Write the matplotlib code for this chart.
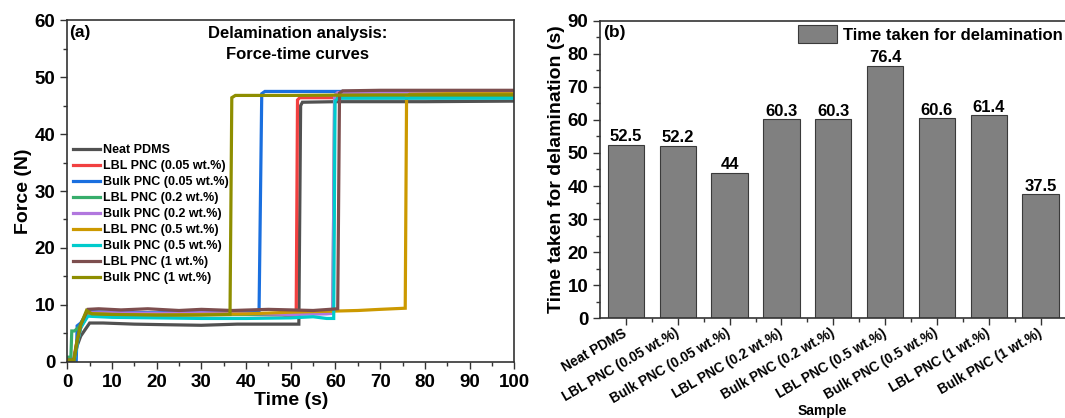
import matplotlib
matplotlib.use("Agg")
import matplotlib.pyplot as plt
from matplotlib.ticker import MultipleLocator

plt.rcParams["font.family"] = ["Liberation Sans", "DejaVu Sans"]
plt.rcParams["font.weight"] = "bold"
plt.rcParams["axes.labelweight"] = "bold"

# --- force-time curves (panel a) ---
labels = [
    "Neat PDMS",
    "LBL PNC (0.05 wt.%)",
    "Bulk PNC (0.05 wt.%)",
    "LBL PNC (0.2 wt.%)",
    "Bulk PNC (0.2 wt.%)",
    "LBL PNC (0.5 wt.%)",
    "Bulk PNC (0.5 wt.%)",
    "LBL PNC (1 wt.%)",
    "Bulk PNC (1 wt.%)",
]
colors = ["#515151", "#F14040", "#1A6FDF", "#37AD6B", "#B177DE",
          "#CC9900", "#00CBCC", "#7D4E4E", "#8E8E00"]

neat_t = [0, 1.5, 2.2, 3.0, 5.0, 8, 15, 22, 30, 38, 45, 51.8, 52.2, 52.6, 60, 80, 100]
neat_f = [0.3, 0.3, 2.8, 4.5, 6.8, 6.8, 6.6, 6.5, 6.4, 6.6, 6.6, 6.6, 45.0, 45.6, 45.7, 45.7, 45.8]

lbl005_t = [0, 1.4, 2.0, 3.0, 4.6, 10, 20, 30, 40, 48, 51.2, 51.5, 52.0, 60, 100]
lbl005_f = [0.3, 0.3, 3.0, 6.0, 8.4, 8.3, 8.2, 8.3, 8.3, 8.2, 7.9, 46.0, 46.4, 46.4, 46.4]

blk005_t = [0, 2.0, 2.2, 3.0, 4.6, 10, 20, 30, 40, 42.9, 43.5, 44.2, 50, 70, 100]
blk005_f = [0.2, 0.2, 6.3, 6.8, 8.8, 8.7, 8.6, 8.8, 8.7, 9.0, 47.1, 47.5, 47.5, 47.5, 47.5]

lbl02_t = [0, 0.8, 1.0, 1.6, 2.5, 4.5, 10, 20, 30, 40, 50, 59.4, 59.8, 60.5, 70, 100]
lbl02_f = [0.8, 0.8, 5.4, 5.4, 6.0, 8.4, 8.3, 8.2, 8.3, 8.3, 8.4, 8.6, 46.3, 46.6, 46.6, 46.7]

blk02_t = [0, 1.5, 2.2, 3.0, 4.6, 10, 20, 30, 40, 50, 58, 59.4, 59.8, 60.5, 75, 100]
blk02_f = [0.3, 0.3, 3.5, 6.0, 8.6, 8.6, 8.5, 8.6, 8.5, 8.3, 8.4, 8.5, 46.8, 47.3, 47.4, 47.4]

lbl05_t = [0, 1.5, 2.2, 3.0, 4.6, 10, 20, 30, 40, 50, 60, 65, 70, 75.6, 75.9, 76.6, 85, 100]
lbl05_f = [0.3, 0.3, 3.5, 6.0, 8.5, 8.3, 8.2, 8.3, 8.4, 8.7, 8.9, 9.0, 9.2, 9.4, 46.5, 47.0, 47.1, 47.1]

blk05_t = [0, 1.6, 2.3, 3.0, 4.6, 10, 20, 30, 40, 50, 55, 58, 59.6, 59.9, 60.6, 75, 100]
blk05_f = [0.3, 0.3, 3.5, 6.0, 8.0, 7.8, 7.7, 7.6, 7.6, 7.7, 7.9, 7.6, 7.6, 45.8, 46.3, 46.3, 46.3]

lbl1_t = [0, 1.5, 2.2, 3.0, 4.6, 7, 12, 18, 25, 30, 37, 45, 50, 55, 60.5, 60.9, 61.6, 70, 100]
lbl1_f = [0.3, 0.3, 3.5, 6.5, 9.2, 9.3, 9.1, 9.3, 9.0, 9.2, 9.0, 9.2, 9.1, 9.0, 9.3, 47.2, 47.6, 47.7, 47.7]

blk1_t = [0, 1.5, 2.2, 3.0, 4.3, 5.5, 10, 20, 30, 36.4, 36.8, 37.6, 50, 70, 100]
blk1_f = [0.3, 0.3, 3.8, 6.5, 9.0, 8.4, 8.3, 8.2, 8.2, 8.3, 46.4, 46.8, 46.8, 46.9, 46.9]

curves = [
    (neat_t, neat_f), (lbl005_t, lbl005_f), (blk005_t, blk005_f),
    (lbl02_t, lbl02_f), (blk02_t, blk02_f), (lbl05_t, lbl05_f),
    (blk05_t, blk05_f), (lbl1_t, lbl1_f), (blk1_t, blk1_f),
]

# --- delamination time (panel b) ---
samples = labels
delam_time = [52.5, 52.2, 44, 60.3, 60.3, 76.4, 60.6, 61.4, 37.5]
delam_text = ["52.5", "52.2", "44", "60.3", "60.3", "76.4", "60.6", "61.4", "37.5"]


def style_axes(ax):
    for s in ax.spines.values():
        s.set_linewidth(1.2)
        s.set_color("#333333")
    ax.tick_params(which="both", direction="out", top=False, right=False,
                   width=1.0, colors="#333333")
    ax.tick_params(which="major", length=5, labelsize=13.5, labelcolor="black")
    ax.tick_params(which="minor", length=3)


fig = plt.figure(figsize=(10.65, 4.18), dpi=100)

ax0 = fig.add_axes([0.0632, 0.1347, 0.4197, 0.8167])
for (t, f), c, lab in zip(curves, colors, labels):
    ax0.plot(t, f, color=c, lw=2.3, label=lab, solid_joinstyle="miter")
ax0.set_xlim(0, 100)
ax0.set_ylim(0, 60)
ax0.xaxis.set_major_locator(MultipleLocator(10))
ax0.xaxis.set_minor_locator(MultipleLocator(5))
ax0.yaxis.set_major_locator(MultipleLocator(10))
ax0.yaxis.set_minor_locator(MultipleLocator(5))
style_axes(ax0)
ax0.set_xlabel("Time (s)", fontsize=14, labelpad=1)
ax0.set_ylabel("Force (N)", fontsize=14, labelpad=2)
ax0.text(0.004, 0.985, "(a)", transform=ax0.transAxes, fontsize=12.5,
         ha="left", va="top")
ax0.text(0.515, 0.982, "Delamination analysis:\nForce-time curves",
         transform=ax0.transAxes, fontsize=12, ha="center", va="top",
         linespacing=1.45)
ax0.legend(loc="upper left", bbox_to_anchor=(0.012, 0.638), frameon=False,
           fontsize=9, handlelength=2.2, handletextpad=0.2, labelspacing=0.32,
           borderpad=0, borderaxespad=0)

ax1 = fig.add_axes([0.5634, 0.2385, 0.4380, 0.7120])
xs = list(range(len(samples)))
ax1.bar(xs, delam_time, width=0.7, color="#808080", edgecolor="#3a3a3a",
        linewidth=0.8, label="Time taken for delamination")
for x, v, s in zip(xs, delam_time, delam_text):
    ax1.text(x, v + 1.0, s, ha="center", va="baseline", fontsize=12)
ax1.set_xlim(-0.5, 8.5)
ax1.set_ylim(0, 90)
ax1.yaxis.set_major_locator(MultipleLocator(10))
ax1.yaxis.set_minor_locator(MultipleLocator(5))
ax1.set_xticks(xs)
ax1.set_xticks([x + 0.5 for x in xs[:-1]], minor=True)
style_axes(ax1)
ax1.set_xticklabels(samples, rotation=30, ha="right", va="center",
                    rotation_mode="anchor", fontsize=9.8)
ax1.tick_params(axis="x", which="major", pad=5)
ax1.set_ylabel("Time taken for delamination (s)", fontsize=14, labelpad=2)
ax1.set_xlabel("Sample", fontsize=10)
ax1.xaxis.set_label_coords(0.476, -0.312)
ax1.xaxis.label.set_va("center")
ax1.text(0.006, 0.985, "(b)", transform=ax1.transAxes, fontsize=12.5,
         ha="left", va="top")
ax1.legend(loc="upper right", bbox_to_anchor=(1.0, 1.0), frameon=False,
           fontsize=12, handlelength=2.3, handleheight=1.3, handletextpad=0.35,
           borderpad=0.25, borderaxespad=0)

fig.savefig("out.png", dpi=100)
